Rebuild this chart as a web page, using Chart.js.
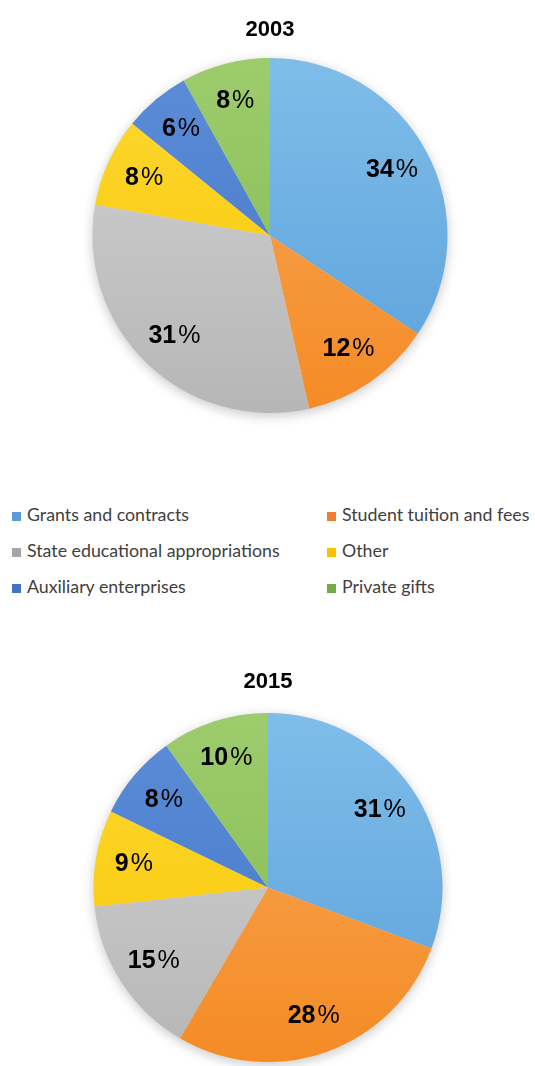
<!DOCTYPE html>
<html>
<head>
<meta charset="utf-8">
<script src="https://cdn.jsdelivr.net/npm/chart.js@4"></script>
<style>
  html, body { margin: 0; padding: 0; background: #fff; }
  #page { position: relative; width: 535px; height: 1066px; overflow: hidden; }
  .pie { position: absolute; left: 0; width: 535px; }
  #pie2003 { top: 0; height: 430px; }
  #pie2015 { top: 640px; height: 426px; }
  #legend { position: absolute; left: 0; top: 0; font-family: Lato, "Open Sans", sans-serif; font-size: 17.8px; color: #404040; }
  .item { position: absolute; white-space: nowrap; line-height: 20px; height: 20px; }
  .item i { display: inline-block; width: 9px; height: 9px; margin-right: 6px; vertical-align: 0px; }
</style>
</head>
<body>
<div id="page">
  <div class="pie" id="pie2003"><canvas id="c2003"></canvas></div>
  <div id="legend"></div>
  <div class="pie" id="pie2015"><canvas id="c2015"></canvas></div>
</div>
<script>
// ----- data -----
const categories = [
  'Grants and contracts',
  'Student tuition and fees',
  'State educational appropriations',
  'Other',
  'Auxiliary enterprises',
  'Private gifts'
];
const years = ['2003', '2015'];
const values2003 = [34, 12, 31, 8, 6, 8];
const values2015 = [31, 28, 15, 9, 8, 10];

// slice colours: light top -> darker bottom (slight gloss like the original)
const topColors = ['#7fbde9', '#f9a85a', '#d3d3d3', '#fdd834', '#5b8dd8', '#9dcc6c'];
const bottomColors = ['#5aa1db', '#f48b25', '#b6b6b6', '#f8c700', '#4475c6', '#80b952'];
// legend squares (office palette)
const legendColors = ['#5B9BD5', '#ED7D31', '#A5A5A5', '#FFC000', '#4472C4', '#70AD47'];

// ----- legend (2 columns, row-major) -----
const legend = document.getElementById('legend');
const colX = [12, 327];
const rowY = [504, 540, 576];
categories.forEach((name, i) => {
  const div = document.createElement('div');
  div.className = 'item';
  div.style.left = colX[i % 2] + 'px';
  div.style.top = rowY[Math.floor(i / 2)] + 'px';
  div.innerHTML = `<i style="background:${legendColors[i]}"></i>${name}`;
  legend.appendChild(div);
});

// gradient fill per slice
function sliceFill(ctx) {
  const i = ctx.dataIndex;
  const chart = ctx.chart;
  const area = chart.chartArea;
  if (!area) return bottomColors[i];
  const g = chart.ctx.createLinearGradient(0, area.top, 0, area.bottom);
  g.addColorStop(0, topColors[i]);
  g.addColorStop(1, bottomColors[i]);
  return g;
}

// soft shadow under the whole pie
const pieShadow = {
  id: 'pieShadow',
  beforeDatasetsDraw(chart) {
    const arc = chart.getDatasetMeta(0).data[0];
    if (!arc) return;
    const { x, y, outerRadius } = arc.getProps(['x', 'y', 'outerRadius'], true);
    const c = chart.ctx;
    c.save();
    c.shadowColor = 'rgba(0,0,0,0.22)';
    c.shadowBlur = 12;
    c.shadowOffsetY = 3;
    c.fillStyle = '#ddd';
    c.beginPath();
    c.arc(x, y, outerRadius, 0, Math.PI * 2);
    c.fill();
    c.restore();
  }
};

// percent labels: bold number + light "%"
const sliceLabels = {
  id: 'sliceLabels',
  afterDatasetsDraw(chart) {
    const c = chart.ctx;
    const vals = chart.data.datasets[0].data;
    chart.getDatasetMeta(0).data.forEach((arc, i) => {
      const p = arc.getProps(['x', 'y', 'startAngle', 'endAngle', 'outerRadius'], true);
      const mid = (p.startAngle + p.endAngle) / 2;
      const r = p.outerRadius * 0.78;
      const cx = p.x + Math.cos(mid) * r;
      const cy = p.y + Math.sin(mid) * r;
      const num = String(vals[i]);
      c.save();
      c.textBaseline = 'middle';
      c.fillStyle = '#000';
      c.font = 'bold 25px "Liberation Sans", Arial, sans-serif';
      const w1 = c.measureText(num).width;
      c.font = '25px "Liberation Sans", Arial, sans-serif';
      const w2 = c.measureText('%').width;
      const gap = 2;
      const x0 = cx - (w1 + gap + w2) / 2;
      c.textAlign = 'left';
      c.font = 'bold 25px "Liberation Sans", Arial, sans-serif';
      c.fillText(num, x0, cy);
      c.font = '25px "Liberation Sans", Arial, sans-serif';
      c.fillText('%', x0 + w1 + gap, cy);
      c.restore();
    });
  }
};

function buildPie(canvasId, year, values, pad, titlePad) {
  return new Chart(document.getElementById(canvasId), {
    type: 'pie',
    data: {
      labels: categories,
      datasets: [{
        data: values,
        backgroundColor: sliceFill,
        borderWidth: 0,
        hoverOffset: 0
      }]
    },
    options: {
      responsive: true,
      maintainAspectRatio: false,
      animation: false,
      layout: { padding: pad },
      plugins: {
        legend: { display: false },
        tooltip: { enabled: false },
        title: {
          display: true,
          text: year,
          color: '#000',
          font: { family: '"Liberation Sans", Arial, sans-serif', size: 22, weight: 'bold', lineHeight: 1.2 },
          padding: titlePad
        }
      }
    },
    plugins: [pieShadow, sliceLabels]
  });
}

buildPie('c2003', years[0], values2003,
  { left: 92, right: 87, top: 0, bottom: 17 },
  { top: 17, bottom: 14.6 });
buildPie('c2015', years[1], values2015,
  { left: 93, right: 92, top: 0, bottom: 4 },
  { top: 29, bottom: 17.6 });
</script>
</body>
</html>
